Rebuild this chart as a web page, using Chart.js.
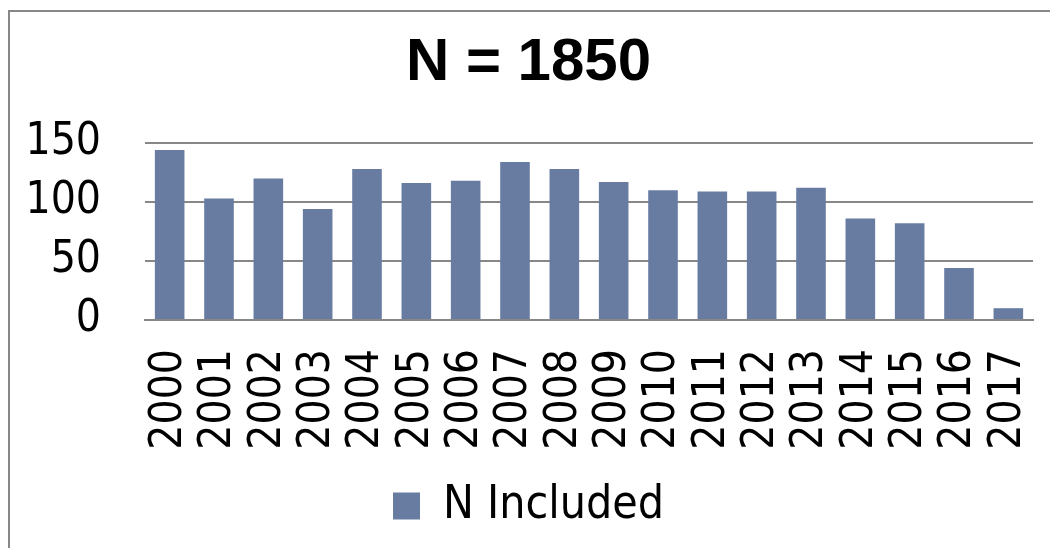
<!DOCTYPE html>
<html>
<head>
<meta charset="utf-8">
<script src="https://cdn.jsdelivr.net/npm/chart.js@4.4.1/dist/chart.umd.min.js"></script>
<style>
  html, body { margin: 0; padding: 0; background: #fff; overflow: hidden; }
  #wrap { position: relative; width: 1050px; height: 548px; overflow: hidden; }
  #frame { position: absolute; left: 8px; top: 10px; width: 1200px; height: 700px;
           border-left: 2px solid #878787; border-top: 2px solid #878787; pointer-events: none; }
  canvas { position: absolute; left: 0; top: 0; }
</style>
</head>
<body>
<div id="wrap">
  <div id="frame"></div>
  <canvas id="chart" width="1068" height="548"></canvas>
</div>
<script>
// Yearly counts of included records
const years = ['2000','2001','2002','2003','2004','2005','2006','2007','2008',
               '2009','2010','2011','2012','2013','2014','2015','2016','2017'];
const nIncluded = [144, 103, 120, 94, 128, 116, 118, 134, 128,
                   117, 110, 109, 109, 112, 86, 82, 44, 10];
const seriesName = 'N Included';
const chartTitle = 'N = 1850';
const yMax = 150;
const yStep = 50;

const FONT = '"DejaVu Sans Condensed", "Liberation Sans", sans-serif';
const BAR = '#687ca2';
const GRID = '#878787';

new Chart(document.getElementById('chart'), {
  type: 'bar',
  data: {
    labels: years,
    datasets: [{
      label: seriesName,
      data: nIncluded,
      backgroundColor: BAR,
      borderWidth: 0,
      barPercentage: 0.6,
      categoryPercentage: 1.0
    }]
  },
  options: {
    responsive: false,
    animation: false,
    devicePixelRatio: 1,
    layout: { padding: { left: 24, right: 35, top: 0, bottom: 9 } },
    plugins: {
      title: {
        display: true,
        text: chartTitle,
        color: '#000',
        font: { family: '"Liberation Sans", sans-serif', size: 60, weight: 'bold' },
        padding: { top: 27, bottom: 44 }
      },
      legend: {
        display: true,
        position: 'bottom',
        labels: {
          color: '#000',
          font: { family: FONT, size: 46 },
          boxWidth: 27,
          boxHeight: 27,
          padding: 10
        }
      },
      tooltip: { enabled: false }
    },
    scales: {
      x: {
        grid: { display: false, drawTicks: false },
        border: { display: true, color: GRID, width: 2 },
        ticks: {
          color: '#000',
          font: { family: FONT, size: 44 },
          minRotation: 90,
          maxRotation: 90,
          padding: 29,
          autoSkip: false
        },
        afterFit: (s) => { s.height = 153; s.paddingLeft = 0; s.paddingRight = 0; }
      },
      y: {
        min: 0,
        max: yMax,
        grid: { color: GRID, lineWidth: 2, drawTicks: false },
        border: { display: false },
        ticks: {
          stepSize: yStep,
          color: '#000',
          font: { family: FONT, size: 44 },
          padding: 44
        },
        afterFit: (s) => { s.width = 121; }
      }
    }
  }
});
</script>
</body>
</html>
